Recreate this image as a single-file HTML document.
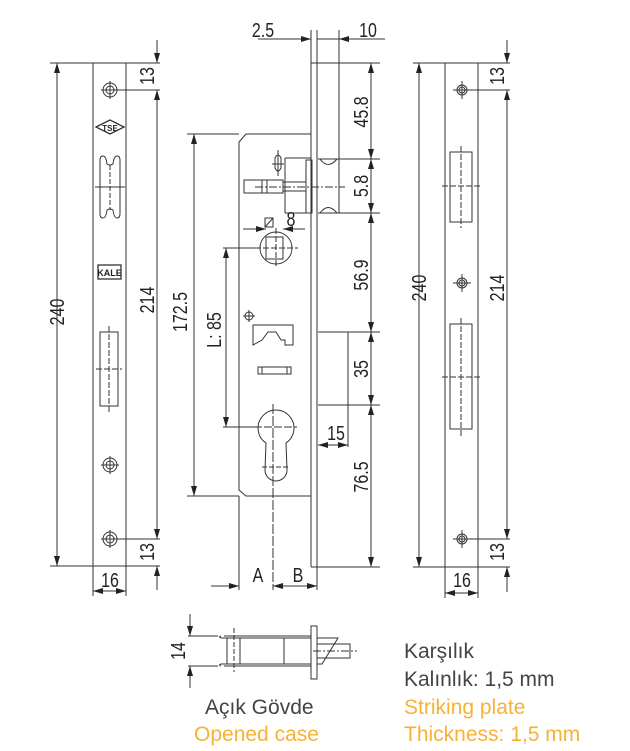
<!DOCTYPE html>
<html><head><meta charset="utf-8"><style>
html,body{margin:0;padding:0;background:#fff;}
svg{display:block;}
text{font-family:"Liberation Sans",sans-serif;fill:#222;}
.d{font-size:20px;}
</style></head><body>
<svg width="630" height="751" viewBox="0 0 630 751" xmlns="http://www.w3.org/2000/svg">
<defs>
<marker id="a" viewBox="0 0 10 6" refX="10" refY="3" markerWidth="10" markerHeight="6" orient="auto-start-reverse" markerUnits="userSpaceOnUse"><path d="M0,0L10,3L0,6z" fill="#222"/></marker>
</defs>
<g stroke="#333" stroke-width="1" fill="none">
<rect x="93" y="63" width="33" height="503"/>
<line x1="50" y1="63" x2="93" y2="63"/><line x1="50" y1="566" x2="93" y2="566"/>
<line x1="57" y1="63" x2="57" y2="566" marker-start="url(#a)" marker-end="url(#a)"/>
<line x1="126" y1="63" x2="160" y2="63"/><line x1="110" y1="90" x2="160" y2="90"/>
<line x1="110" y1="539" x2="160" y2="539"/><line x1="126" y1="566" x2="160" y2="566"/>
<line x1="157" y1="40" x2="157" y2="63" marker-end="url(#a)"/>
<line x1="157" y1="90" x2="157" y2="539" marker-start="url(#a)" marker-end="url(#a)"/>
<line x1="157" y1="590" x2="157" y2="566" marker-end="url(#a)"/>
<line x1="93" y1="566" x2="93" y2="596"/><line x1="126" y1="566" x2="126" y2="596"/>
<line x1="93" y1="591" x2="126" y2="591" marker-start="url(#a)" marker-end="url(#a)"/>
<circle cx="110" cy="90" r="7"/><circle cx="110" cy="90" r="4"/>
<line x1="101" y1="90" x2="119" y2="90"/><line x1="110" y1="81" x2="110" y2="99"/>
<circle cx="110" cy="465" r="7"/><circle cx="110" cy="465" r="4"/>
<line x1="101" y1="465" x2="119" y2="465"/><line x1="110" y1="456" x2="110" y2="474"/>
<circle cx="110" cy="539" r="7"/><circle cx="110" cy="539" r="4"/>
<line x1="101" y1="539" x2="119" y2="539"/><line x1="110" y1="530" x2="110" y2="548"/>
<path d="M96,127 L110,120 L124,127 L110,134 Z" stroke-width="1.3"/>
<path d="M100,160 Q100,156 103,156 Q106,156 107,164 Q110,166 113,164 Q114,156 117,156 Q120,156 120,160 L120,214 Q120,218 117,218 Q114,218 113,210 Q110,208 107,210 Q106,218 103,218 Q100,218 100,214 Z"/>
<line x1="95" y1="187" x2="125" y2="187"/><line x1="110" y1="165" x2="110" y2="210" stroke-dasharray="5,2"/>
<rect x="98" y="265" width="23" height="14" stroke-width="1.3"/>
<rect x="100" y="332" width="18" height="74"/>
<line x1="96" y1="369" x2="122" y2="369" stroke-dasharray="6,2"/><line x1="109" y1="326" x2="109" y2="412" stroke-dasharray="6,2"/>

<line x1="311" y1="63" x2="311" y2="567"/><line x1="317" y1="63" x2="317" y2="567"/>
<line x1="311" y1="63" x2="380" y2="63"/><line x1="339" y1="63" x2="339" y2="213"/>
<line x1="311" y1="567" x2="380" y2="567"/>
<line x1="311" y1="30" x2="311" y2="63"/><line x1="317" y1="30" x2="317" y2="63"/><line x1="339" y1="30" x2="339" y2="63"/>
<line x1="258" y1="39" x2="300" y2="39"/><line x1="300" y1="39" x2="311" y2="39" marker-end="url(#a)"/>
<line x1="317" y1="39" x2="385" y2="39"/><line x1="350" y1="39" x2="339" y2="39" marker-end="url(#a)"/>
<path d="M311,134 L246,134 L239,142 L239,490 L246,496 L311,496"/>
<line x1="187" y1="134" x2="239" y2="134"/><line x1="187" y1="496" x2="239" y2="496"/>
<line x1="194" y1="134" x2="194" y2="496" marker-start="url(#a)" marker-end="url(#a)"/>
<line x1="223" y1="248" x2="260" y2="248"/><line x1="223" y1="427" x2="255" y2="427"/>
<line x1="226" y1="248" x2="226" y2="427" marker-start="url(#a)" marker-end="url(#a)"/>
<rect x="306" y="160" width="6" height="53"/>
<path d="M285,158 L311,158 M285,213 L311,213 M285,158 L285,213"/>
<path d="M318,159 L339,159 M318,213 L339,213"/>
<path d="M320,159 Q328,170 337,159 M320,213 Q328,202 337,213"/>
<rect x="244" y="180" width="39" height="13"/><line x1="262" y1="180" x2="262" y2="193"/><line x1="267" y1="180" x2="267" y2="193"/>
<line x1="283" y1="182" x2="306" y2="182"/><line x1="283" y1="191" x2="306" y2="191"/>
<line x1="255" y1="187" x2="345" y2="187" stroke-dasharray="8,2,2,2"/>
<path d="M275,158 Q278,152 281,158 L281,168 Q278,174 275,168 Z"/><line x1="272" y1="164" x2="284" y2="164"/><line x1="278" y1="150" x2="278" y2="176"/>
<circle cx="276" cy="248" r="16"/><rect x="266" y="237" width="17" height="22"/>
<line x1="255" y1="248" x2="298" y2="248" stroke-dasharray="6,2"/><line x1="276" y1="228" x2="276" y2="268" stroke-dasharray="6,2"/>
<rect x="265" y="218" width="8" height="9"/><line x1="265" y1="227" x2="273" y2="218"/>
<line x1="243" y1="229" x2="266" y2="229" marker-end="url(#a)"/><line x1="305" y1="229" x2="283" y2="229" marker-end="url(#a)"/>
<circle cx="249" cy="316" r="4"/><line x1="243" y1="316" x2="255" y2="316"/><line x1="249" y1="310" x2="249" y2="322"/>
<path d="M253,325 L293,325 L293,345 L285,345 L285,340 L281,340 L276,332 L268,332 L262,340 L253,345 Z"/>
<rect x="258" y="367" width="33" height="7"/><line x1="262" y1="367" x2="262" y2="374"/><line x1="287" y1="367" x2="287" y2="374"/>
<path d="M266,443 A18,18 0 1 1 286,443 L287,470 A11,11 0 0 1 265,470 Z"/>
<line x1="224" y1="427" x2="297" y2="427" stroke-dasharray="8,2"/>
<line x1="262" y1="467" x2="290" y2="467" stroke-dasharray="5,2"/>
<line x1="273" y1="404" x2="273" y2="590" stroke-dasharray="10,2"/>
<path d="M318,332 L348,332 L348,405 L318,405"/>
<line x1="348" y1="332" x2="380" y2="332"/><line x1="318" y1="405" x2="380" y2="405"/>
<line x1="348" y1="405" x2="348" y2="447"/>
<line x1="318" y1="445" x2="348" y2="445" marker-start="url(#a)" marker-end="url(#a)"/>
<line x1="339" y1="159" x2="380" y2="159"/><line x1="339" y1="213" x2="380" y2="213"/>
<line x1="371" y1="63" x2="371" y2="159" marker-start="url(#a)" marker-end="url(#a)"/>
<line x1="371" y1="159" x2="371" y2="213" marker-start="url(#a)" marker-end="url(#a)"/>
<line x1="371" y1="213" x2="371" y2="332" marker-start="url(#a)" marker-end="url(#a)"/>
<line x1="371" y1="332" x2="371" y2="405" marker-start="url(#a)" marker-end="url(#a)"/>
<line x1="371" y1="405" x2="371" y2="567" marker-start="url(#a)" marker-end="url(#a)"/>
<line x1="239" y1="496" x2="239" y2="590"/><line x1="317" y1="567" x2="317" y2="590"/>
<line x1="211" y1="586" x2="239" y2="586" marker-end="url(#a)"/>
<line x1="273" y1="586" x2="317" y2="586" marker-start="url(#a)" marker-end="url(#a)"/>

<rect x="445" y="63" width="33" height="504"/>
<line x1="413" y1="63" x2="445" y2="63"/><line x1="413" y1="567" x2="445" y2="567"/>
<line x1="419" y1="63" x2="419" y2="567" marker-start="url(#a)" marker-end="url(#a)"/>
<line x1="478" y1="63" x2="510" y2="63"/><line x1="462" y1="90" x2="510" y2="90"/>
<line x1="462" y1="539" x2="510" y2="539"/><line x1="478" y1="567" x2="510" y2="567"/>
<line x1="507" y1="40" x2="507" y2="63" marker-end="url(#a)"/>
<line x1="507" y1="90" x2="507" y2="539" marker-start="url(#a)" marker-end="url(#a)"/>
<line x1="507" y1="592" x2="507" y2="567" marker-end="url(#a)"/>
<line x1="445" y1="567" x2="445" y2="598"/><line x1="478" y1="567" x2="478" y2="598"/>
<line x1="445" y1="593" x2="478" y2="593" marker-start="url(#a)" marker-end="url(#a)"/>
<circle cx="462" cy="90" r="5"/><circle cx="462" cy="90" r="3"/><line x1="453" y1="90" x2="471" y2="90"/><line x1="462" y1="81" x2="462" y2="99"/>
<circle cx="462" cy="283" r="5"/><circle cx="462" cy="283" r="3"/><line x1="453" y1="283" x2="471" y2="283"/><line x1="462" y1="274" x2="462" y2="292"/>
<circle cx="462" cy="539" r="5"/><circle cx="462" cy="539" r="3"/><line x1="453" y1="539" x2="471" y2="539"/><line x1="462" y1="530" x2="462" y2="548"/>
<rect x="450" y="152" width="22" height="70"/>
<line x1="442" y1="186" x2="481" y2="186" stroke-dasharray="6,2"/><line x1="461" y1="146" x2="461" y2="228" stroke-dasharray="6,2"/>
<rect x="450" y="324" width="22" height="105"/>
<line x1="442" y1="377" x2="481" y2="377" stroke-dasharray="6,2"/><line x1="461" y1="318" x2="461" y2="436" stroke-dasharray="6,2"/>

<line x1="188" y1="636" x2="218" y2="636"/><line x1="188" y1="666" x2="218" y2="666"/>
<line x1="190" y1="614" x2="190" y2="636" marker-end="url(#a)"/><line x1="190" y1="688" x2="190" y2="666" marker-end="url(#a)"/>
<path d="M224,636 L311,636 M224,666 L311,666 M221,638 L311,638 M221,664 L311,664"/>
<path d="M221,636 Q218,637 221,638 M221,664 Q218,665 221,666"/>
<line x1="227" y1="638" x2="227" y2="664"/><line x1="240" y1="638" x2="240" y2="664"/><line x1="284" y1="638" x2="284" y2="664"/>
<line x1="234" y1="628" x2="234" y2="672" stroke-dasharray="5,2"/>
<rect x="311" y="626" width="6" height="53"/>
<path d="M317,638 L338,638 L322,664 L317,664 M317,644 L350,644 L350,658 L317,658"/>
<line x1="313" y1="651" x2="357" y2="651" stroke-dasharray="8,2,2,2"/>
</g>
<text x="110" y="131" text-anchor="middle" style="font-size:8px;font-weight:bold">TSE</text>
<text x="109.5" y="276" text-anchor="middle" style="font-size:9px;font-weight:bold">KALE</text>
<g class="d">
<text transform="translate(263,37) scale(0.8,1)" text-anchor="middle">2.5</text>
<text transform="translate(368,37) scale(0.8,1)" text-anchor="middle">10</text>
<text transform="translate(64,312) rotate(-90) scale(0.8,1)" text-anchor="middle">240</text>
<text transform="translate(154,76) rotate(-90) scale(0.8,1)" text-anchor="middle">13</text>
<text transform="translate(154,300) rotate(-90) scale(0.8,1)" text-anchor="middle">214</text>
<text transform="translate(154,552) rotate(-90) scale(0.8,1)" text-anchor="middle">13</text>
<text transform="translate(110,587) scale(0.8,1)" text-anchor="middle">16</text>
<text transform="translate(187,312) rotate(-90) scale(0.8,1)" text-anchor="middle">172.5</text>
<text transform="translate(221,330) rotate(-90) scale(0.8,1)" text-anchor="middle">L: 85</text>
<text transform="translate(291,226) scale(0.8,1)" text-anchor="middle">8</text>
<text transform="translate(368,112) rotate(-90) scale(0.8,1)" text-anchor="middle">45.8</text>
<text transform="translate(368,186) rotate(-90) scale(0.8,1)" text-anchor="middle">5.8</text>
<text transform="translate(368,275) rotate(-90) scale(0.8,1)" text-anchor="middle">56.9</text>
<text transform="translate(368,369) rotate(-90) scale(0.8,1)" text-anchor="middle">35</text>
<text transform="translate(368,477) rotate(-90) scale(0.8,1)" text-anchor="middle">76.5</text>
<text transform="translate(336,440) scale(0.8,1)" text-anchor="middle">15</text>
<text transform="translate(258,582) scale(0.8,1)" text-anchor="middle">A</text>
<text transform="translate(298,582) scale(0.8,1)" text-anchor="middle">B</text>
<text transform="translate(426,288) rotate(-90) scale(0.8,1)" text-anchor="middle">240</text>
<text transform="translate(504,76) rotate(-90) scale(0.8,1)" text-anchor="middle">13</text>
<text transform="translate(504,288) rotate(-90) scale(0.8,1)" text-anchor="middle">214</text>
<text transform="translate(504,552) rotate(-90) scale(0.8,1)" text-anchor="middle">13</text>
<text transform="translate(462,587) scale(0.8,1)" text-anchor="middle">16</text>
<text transform="translate(185,651) rotate(-90) scale(0.8,1)" text-anchor="middle">14</text>
</g>
<g style="font-size:21px">
<text x="205" y="714" style="fill:#444">Açık Gövde</text>
<text x="194" y="741" style="fill:#f7b135">Opened case</text>
<text x="404" y="658" style="fill:#444">Karşılık</text>
<text x="404" y="686" style="fill:#444">Kalınlık: 1,5 mm</text>
<text x="404" y="714" style="fill:#f7b135">Striking plate</text>
<text x="404" y="741" style="fill:#f7b135">Thickness: 1,5 mm</text>
</g>
</svg>
</body></html>
